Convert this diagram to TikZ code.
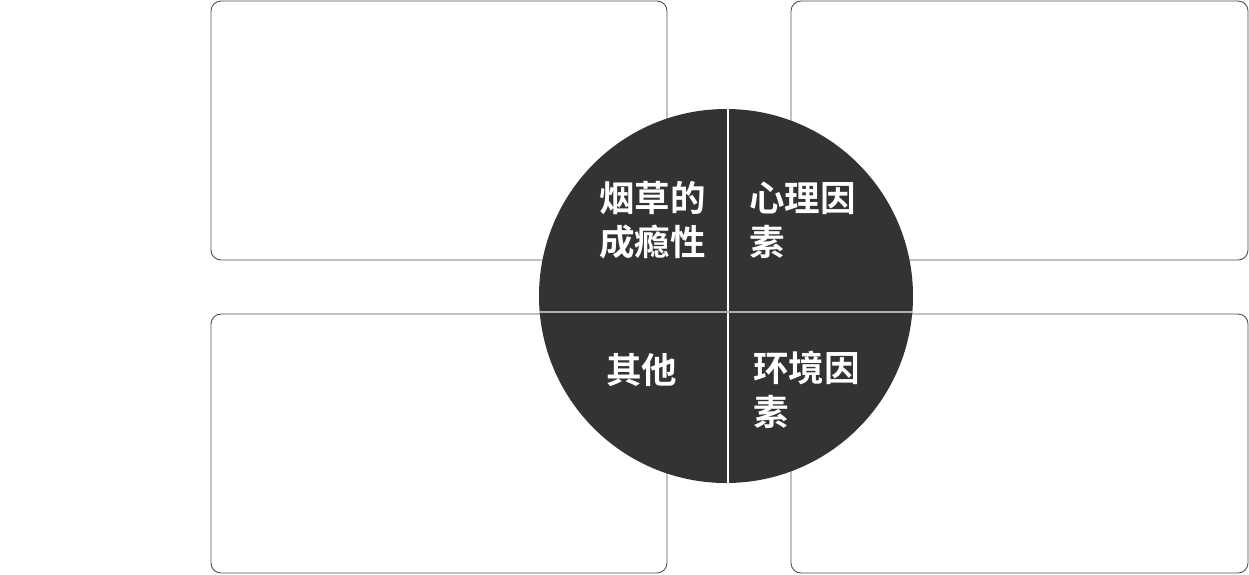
\documentclass[tikz,border=0pt]{standalone}
\usepackage{fontspec}
\newfontfamily\cjk{Noto Sans CJK SC Bold}
\definecolor{disc}{HTML}{333333}
\definecolor{frame}{HTML}{505050}
\definecolor{divh}{HTML}{B0B0B0}
\begin{document}
\begin{tikzpicture}[x=1pt,y=-1pt,
  card/.style={draw=frame,line width=0.9pt,fill=white,rounded corners=10pt},
  lab/.style={text=white,font=\cjk\fontsize{35.5}{44}\selectfont,align=left,inner sep=0pt,anchor=west}]
\useasboundingbox (0,0) rectangle (1249,574);
\draw[card] (211,1) rectangle (667,260);
\draw[card] (791,1) rectangle (1248,260);
\draw[card] (211,314) rectangle (667,573);
\draw[card] (791,314) rectangle (1248,573);
\node[circle,fill=disc,minimum size=374pt,inner sep=0pt] (c) at (726,296) {};
\coordinate (vt) at (728,109);
\coordinate (vb) at (728,483);
\coordinate (hl) at (539,312);
\coordinate (hr) at (913,312);
\draw[white,line width=1.5pt] (vt) -- (vb);
\draw[divh,line width=1.5pt] (hl) -- (hr);
\node[lab] (t1) at (599,220) {烟草的\\成瘾性};
\node[lab] (t2) at (749,220) {心理因\\素};
\node[lab] (t3) at (606,370) {其他};
\node[lab] (t4) at (753,390) {环境因\\素};
\end{tikzpicture}
\end{document}
